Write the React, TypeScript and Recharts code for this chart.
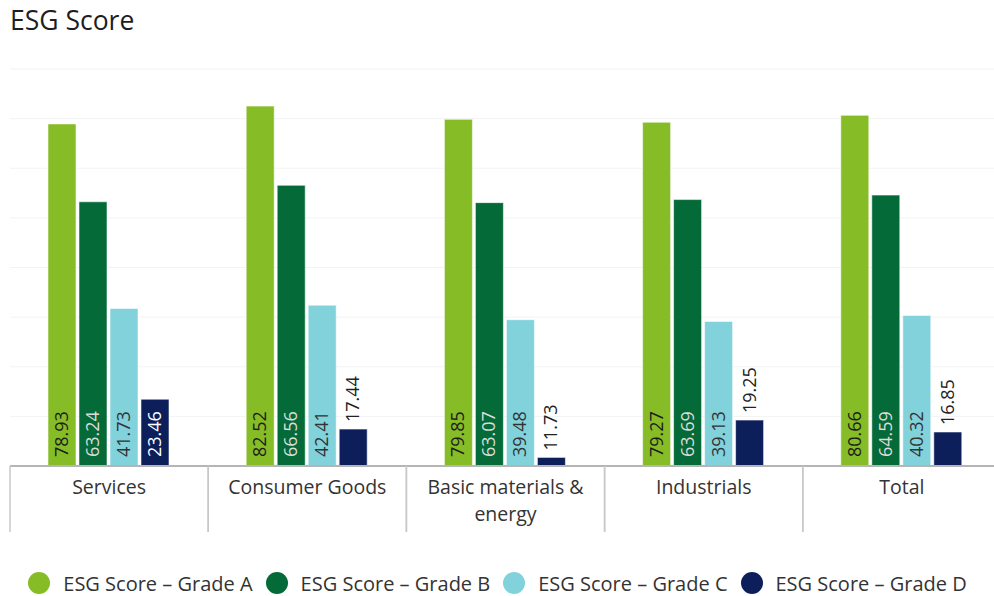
import React from "react";
import {
  BarChart,
  Bar,
  XAxis,
  YAxis,
  CartesianGrid,
  Legend,
  LabelList,
} from "recharts";

const categories = [
  "Services",
  "Consumer Goods",
  "Basic materials & energy",
  "Industrials",
  "Total",
];
const gradeA = [78.93, 82.52, 79.85, 79.27, 80.66];
const gradeB = [63.24, 66.56, 63.07, 63.69, 64.59];
const gradeC = [41.73, 42.41, 39.48, 39.13, 40.32];
const gradeD = [23.46, 17.44, 11.73, 19.25, 16.85];
const yTicks = [10, 20, 30, 40, 50, 60, 70, 80, 90];

const series = [
  { key: "a", name: "ESG Score – Grade A", color: "#86BC25", text: "#1c1c1c" },
  { key: "b", name: "ESG Score – Grade B", color: "#046A38", text: "#dcdcdc" },
  { key: "c", name: "ESG Score – Grade C", color: "#82D2DC", text: "#333333" },
  { key: "d", name: "ESG Score – Grade D", color: "#0C1F5B", text: "#ffffff" },
];

const rows = categories.map((name, i) => ({
  name,
  a: gradeA[i],
  b: gradeB[i],
  c: gradeC[i],
  d: gradeD[i],
}));

const FONT = "'Open Sans', sans-serif";

// wrap category names by character count (~ fits the band width)
function wrap(label: string, max = 18): string[] {
  const lines: string[] = [];
  let cur = "";
  for (const word of label.split(" ")) {
    const next = cur ? cur + " " + word : word;
    if (next.length > max && cur) {
      lines.push(cur);
      cur = word;
    } else {
      cur = next;
    }
  }
  if (cur) lines.push(cur);
  return lines;
}

function makeLabel(insideColor: string) {
  return (props: any) => {
    const x = Number(props.x);
    const y = Number(props.y);
    const w = Number(props.width);
    const h = Number(props.height);
    const label = Number(props.value).toFixed(2);
    const cx = x + w / 2 + 6;
    const inside = h > 56;
    const ty = inside ? y + h - 9 : y - 7;
    return (
      <text
        x={cx}
        y={ty}
        transform={`rotate(-90 ${cx} ${ty})`}
        textAnchor="start"
        fontSize={18}
        fontFamily={FONT}
        fill={inside ? insideColor : "#222"}
      >
        {label}
      </text>
    );
  };
}

function CategoryTick(props: any) {
  const { x, y, payload } = props;
  const half = payload && payload.offset ? payload.offset : 99;
  const lines = wrap(String(payload.value));
  return (
    <g>
      <line
        x1={x - half}
        x2={x - half}
        y1={y}
        y2={y + 66}
        stroke="#c8c8c8"
        strokeWidth={1.5}
      />
      <line
        x1={x + half}
        x2={x + half}
        y1={y}
        y2={y + 66}
        stroke="#c8c8c8"
        strokeWidth={1.5}
      />
      <text
        x={x}
        y={y + 28}
        textAnchor="middle"
        fontSize={19.5}
        fontFamily={FONT}
        fill="#333"
      >
        {lines.map((l, i) => (
          <tspan key={i} x={x} dy={i === 0 ? 0 : 27}>
            {l}
          </tspan>
        ))}
      </text>
    </g>
  );
}

function LegendContent() {
  return (
    <div
      style={{
        display: "flex",
        justifyContent: "center",
        alignItems: "center",
        height: 24,
        paddingRight: 16,
        fontFamily: FONT,
        fontSize: 20,
        color: "#333",
        whiteSpace: "nowrap",
      }}
    >
      {series.map((s, i) => (
        <div
          key={s.key}
          style={{
            display: "flex",
            alignItems: "center",
            marginRight: i === series.length - 1 ? 0 : 13,
          }}
        >
          <span
            style={{
              width: 22,
              height: 22,
              borderRadius: "50%",
              background: s.color,
              display: "inline-block",
              marginRight: 13,
            }}
          />
          <span>{s.name}</span>
        </div>
      ))}
    </div>
  );
}

export default function App() {
  return (
    <div
      style={{
        position: "absolute",
        left: 0,
        top: 0,
        width: 994,
        height: 596,
        overflow: "hidden",
        background: "#fff",
      }}
    >
      <div
        style={{
          position: "absolute",
          left: 10,
          top: 2,
          fontFamily: FONT,
          fontSize: 26.5,
          color: "#1e1e1e",
        }}
      >
        ESG Score
      </div>
      <BarChart
        width={1002}
        height={596}
        data={rows}
        margin={{ top: 69, right: 1, left: 10, bottom: 1 }}
        barCategoryGap={38}
        barGap={3}
      >
        <CartesianGrid vertical={false} stroke="#f3f3f3" strokeWidth={1} />
        <YAxis hide domain={[10, 90]} ticks={yTicks} allowDataOverflow />
        <XAxis
          dataKey="name"
          height={105}
          interval={0}
          tickSize={0}
          tickMargin={0}
          tick={<CategoryTick />}
          axisLine={{ stroke: "#b5b5b5", strokeWidth: 2 }}
        />
        <Legend
          verticalAlign="bottom"
          height={24}
          content={<LegendContent />}
        />
        {series.map((s) => (
          <Bar
            key={s.key}
            dataKey={s.key}
            name={s.name}
            fill={s.color}
            stroke="rgba(255,255,255,0.55)"
            strokeWidth={1}
            isAnimationActive={false}
          >
            <LabelList dataKey={s.key} content={makeLabel(s.text)} />
          </Bar>
        ))}
      </BarChart>
    </div>
  );
}
